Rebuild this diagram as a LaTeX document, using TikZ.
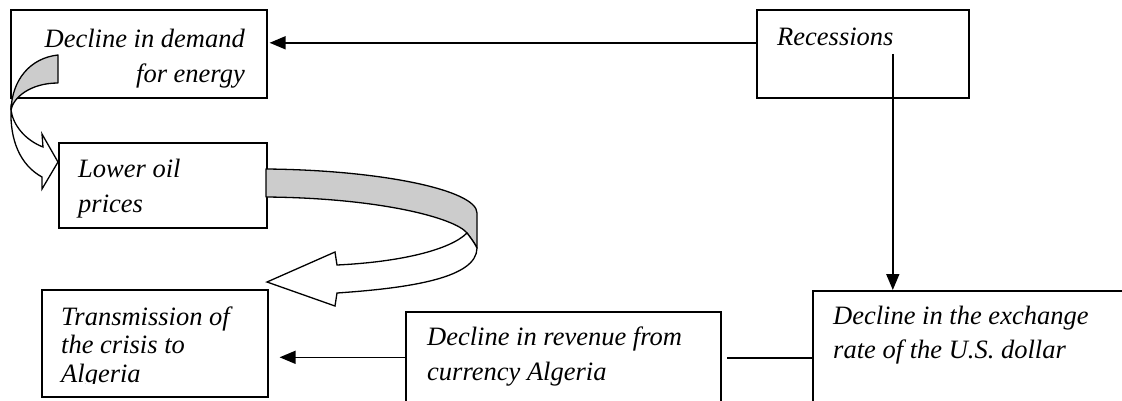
\documentclass[tikz,border=0pt]{standalone}
\usepackage{fontspec}
\setmainfont{Liberation Serif}
\usetikzlibrary{arrows.meta}
\begin{document}
\begin{tikzpicture}[x=1pt,y=-1pt,
  box/.style={draw, line width=1.6pt, inner sep=0pt, anchor=north west},
  txt/.style={inner sep=0pt, font=\fontsize{26.5}{35}\selectfont\itshape, align=left},
  conn/.style={line width=1.6pt},
  arr/.style={line width=1.6pt, -{Triangle[length=16pt,width=13pt]}},
  band/.style={draw, line width=1.3pt, line join=round, fill=gray!40},
  bandw/.style={draw, line width=1.3pt, line join=miter, fill=white}]
\useasboundingbox (0,0) rectangle (1122,400);
\clip (0,0) rectangle (1122,400);
% boxes
\node[box, minimum width=256pt, minimum height=88pt] (demand) at (10,9) {};
\node[box, minimum width=212pt, minimum height=88pt] (rec) at (756,9) {};
\node[box, minimum width=208pt, minimum height=85pt] (oil) at (58,142) {};
\node[box, minimum width=226pt, minimum height=107pt] (trans) at (41,289) {};
\node[box, minimum width=315pt, minimum height=91pt] (revenue) at (405,311) {};
\node[box, minimum width=330pt, minimum height=134pt] (dollar) at (812,290) {};
% texts (base anchor = baseline of last line)
\node[txt, anchor=base east, align=right] (demandtxt) at (245,82) {Decline in demand\\for energy};
\node[txt, anchor=base west] (rectxt) at (777,45) {Recessions};
\node[txt, anchor=base west] (oiltxt) at (78,212) {Lower oil\\prices};
\begin{scope}
\clip (41,289) rectangle (267,383.5);
\node[txt, anchor=base west, font=\fontsize{26.5}{28.5}\selectfont\itshape] (transtxt) at (61,382) {Transmission of\\the crisis to\\Algeria};
\end{scope}
\node[txt, anchor=base west] (revtxt) at (427,380) {Decline in revenue from\\currency Algeria};
\node[txt, anchor=base west, font=\fontsize{26.5}{34}\selectfont\itshape] (dollartxt) at (833,358) {Decline in the exchange\\rate of the U.S. dollar};
% connectors
\draw[arr] ([yshift=11pt]rec.west) -- ([xshift=2pt,yshift=11pt]demand.east);
\draw[arr] ([xshift=30pt]rec.center) -- ([xshift=30pt]rec.center |- dollar.north);
\draw[conn] (dollar.west) -- ([xshift=5pt]revenue.east |- dollar.west);
\draw[arr] (revenue.west) -- ([xshift=11pt]trans.east |- revenue.west);
% curved arrow 1
\path[band] (58,55) .. controls (30,58) and (12,80) .. (11,110) .. controls (13,98) and (30,83) .. (58,83) -- cycle;
\path[bandw] (11,110) .. controls (10,140) and (20,165) .. (42,177) -- (42,189) -- (58,162) -- (42,134) -- (43,147) .. controls (25,140) and (13,125) .. (11,110) -- cycle;
% curved arrow 2
\path[band] (266,169) .. controls (380,170) and (477,190) .. (477,213) -- (477,248) .. controls (474,242) and (470,237) .. (467,233) .. controls (455,218) and (380,198) .. (266,197) -- cycle;
\path[bandw] (477,248) .. controls (477,278) and (410,288) .. (337,293) -- (335,306) -- (267,282) -- (335,252) -- (337,265) .. controls (400,262) and (450,250) .. (467,233) .. controls (470,237) and (474,242) .. (477,248) -- cycle;
\end{tikzpicture}
\end{document}
